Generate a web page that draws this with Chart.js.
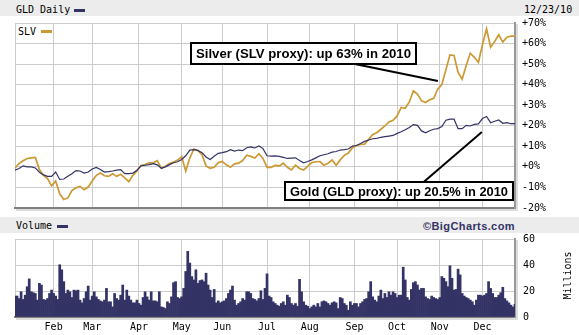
<!DOCTYPE html>
<html><head><meta charset="utf-8">
<script src="https://cdn.jsdelivr.net/npm/chart.js@4.4.0/dist/chart.umd.min.js"></script>
<style>
html,body{margin:0;padding:0;background:#fff;}
#wrap{position:relative;width:579px;height:335px;overflow:hidden;background:#fff;font-family:"DejaVu Sans Mono",monospace;font-size:10px;}
.band{position:absolute;left:0;width:579px;background:#ececec;}
.t{position:absolute;white-space:nowrap;line-height:10px;color:#000;}
.sw{position:absolute;height:3px;width:11px;}
canvas{position:absolute;left:0;}
</style></head><body>
<div id="wrap">
 <div class="band" style="top:0;height:16px"></div>
 <div class="band" style="top:217px;height:16px"></div>
 <div class="t" style="left:16px;top:4.5px">GLD Daily</div>
 <div class="sw" style="left:74px;top:9px;background:#333366"></div>
 <div class="t" style="left:524px;top:4.5px">12/23/10</div>
 <div class="t" style="left:18px;top:26.5px">SLV</div>
 <div class="sw" style="left:41px;top:30px;background:#cc9933"></div>
 <div class="t" style="left:16px;top:221px">Volume</div>
 <div class="sw" style="left:57px;top:225px;background:#333366"></div>
 <div class="t" style="left:423px;top:219.5px;font:bold 11px 'Liberation Sans',Arial,sans-serif;letter-spacing:0.4px;color:#333366">©BigCharts.com</div>
 <canvas id="top" width="579" height="215" style="top:0"></canvas>
 <canvas id="vol" width="579" height="102" style="top:233px"></canvas>
</div>
<script>
// trading-session index (Jan 4 2010 = 0 ... Dec 23 2010 = 246); price lines sampled every 2nd session
const sessions = [0,2,4,6,8,10,12,14,16,18,20,22,24,26,28,30,32,34,36,38,40,42,44,46,48,50,52,54,56,58,60,62,64,66,68,70,72,74,76,78,80,82,84,86,88,90,92,94,96,98,100,102,104,106,108,110,112,114,116,118,120,122,124,126,128,130,132,134,136,138,140,142,144,146,148,150,152,154,156,158,160,162,164,166,168,170,172,174,176,178,180,182,184,186,188,190,192,194,196,198,200,202,204,206,208,210,212,214,216,218,220,222,224,226,228,230,232,234,236,238,240,242,244,246];
const monthNames = ['Feb','Mar','Apr','May','Jun','Jul','Aug','Sep','Oct','Nov','Dec'];
const monthStarts = [19,38,61,82,102,124,145,167,188,209,230];
const lastSession = 246;

// SLV, % change
const slv = [-0.5,1.6,3.0,4.1,4.4,4.6,-1.3,-4.1,-5.7,-9.2,-6.9,-13.1,-15.9,-15.1,-11.5,-10.2,-9.5,-11.1,-9.8,-6.9,-4.1,-3.0,-4.3,-4.6,-3.3,-4.6,-3.6,-5.4,-7.2,-4.1,-2.0,0.7,1.1,2.0,2.0,3.0,-0.7,0.3,1.6,2.3,3.3,4.9,-2.0,4.3,8.7,7.9,5.9,0.5,-0.7,-0.2,2.1,2.6,1.0,-0.2,1.5,1.8,3.1,5.7,5.1,4.3,6.4,4.1,-0.2,-0.2,0.7,0.5,1.8,-0.2,-1.5,0.8,-0.8,-1.5,0.2,2.1,2.5,2.6,0.8,1.8,3.4,0.8,3.4,5.6,6.7,9.3,10.4,10.9,11.1,13.4,15.8,16.6,18.3,19.9,21.9,22.7,24.8,28.9,28.5,31.6,37.0,35.4,32.1,31.3,32.6,33.4,37.8,40.0,47.3,54.5,54.2,46.0,42.7,49.3,55.3,53.3,50.9,59.4,67.2,58.2,61.0,64.3,60.7,63.1,63.6,63.6];
// GLD, % change
const gld = [-1.6,-0.8,0.5,0,0,-0.5,-2.6,-3.9,-4.6,-4.6,-2.5,-6.1,-5.9,-4.6,-3.3,-1.8,-2.0,-3.0,-2.5,-1.0,-0.3,-1.3,-2.5,-2.3,-2.0,-1.6,-1.3,-3.3,-3.3,-3.0,-1.6,0.5,0.8,1.1,1.6,1.0,-0.7,0,1.1,2.0,2.5,3.6,5.4,8.2,8.4,8.0,6.9,4.8,3.6,5.2,6.6,6.9,7.4,8.4,7.7,8.2,7.9,9.3,9.7,9.2,10.2,8.9,5.4,5.2,5.4,5.1,4.6,4.1,4.3,4.4,3.1,2.0,2.6,3.4,4.4,5.4,5.9,6.4,7.2,7.5,8.2,8.4,8.7,10.1,10.4,11.4,12.4,13.1,13.7,13.9,14.4,14.7,15.0,15.3,16.3,17.1,18.1,19.2,20.6,20.2,17.5,16.6,17.6,18.3,18.6,19.6,22.7,23.2,23.2,18.6,18.6,20.2,19.9,20.7,20.9,23.5,24.5,21.5,22.2,22.8,21.2,21.5,21.0,21.0];
// GLD daily volume, millions of shares (one value per session 0..246)
const volume = [16.1,16.1,14.2,19.4,13.5,16.8,23.3,29.3,19.4,18.7,
18.1,13.0,25.9,24.6,13.5,13.0,14.2,18.1,20.7,18.1,
16.1,13.5,40.2,36.3,27.2,18.1,20.7,19.4,15.0,20.7,
20.2,20.7,13.0,10.9,14.2,19.4,23.8,13.0,16.1,19.4,
15.5,13.5,12.4,11.7,13.0,22.0,11.7,11.7,7.8,18.1,
14.2,13.0,16.8,24.6,13.0,20.7,16.1,13.0,10.9,10.9,
13.0,10.4,9.1,15.0,19.4,15.5,13.0,19.4,12.4,12.4,
11.7,19.4,7.8,7.3,6.5,11.7,10.4,15.5,26.4,27.2,
15.0,14.2,15.5,22.0,35.0,50.5,41.5,31.1,28.5,36.3,
25.9,28.0,28.5,27.2,33.7,24.6,20.7,15.0,21.2,10.9,
12.4,10.9,11.7,12.4,14.2,18.1,20.7,23.8,13.0,9.1,
10.4,11.7,14.2,13.0,19.4,19.4,18.1,14.2,13.5,12.4,
14.2,20.2,13.5,22.0,33.2,16.1,15.0,11.7,10.4,9.1,
8.3,10.4,11.7,9.1,16.8,15.0,10.4,9.1,10.4,8.3,
29.0,19.4,11.7,9.1,8.3,6.5,7.8,9.1,7.8,10.4,
7.8,11.7,12.4,11.7,10.4,9.1,10.9,11.7,10.9,6.5,
15.0,14.2,10.4,9.1,5.2,11.7,9.1,10.4,10.4,7.8,
10.4,11.7,13.5,14.2,19.4,27.2,15.5,13.0,11.7,16.1,
20.7,14.2,18.1,15.0,19.4,16.8,19.4,18.1,15.0,16.8,
16.8,38.3,28.5,15.0,13.0,21.2,26.4,27.2,24.6,20.7,
22.0,22.0,15.5,14.2,13.5,16.1,15.0,14.2,13.5,15.0,
31.1,29.8,27.2,23.3,39.4,29.8,20.7,21.2,36.8,32.4,
18.1,16.1,15.0,14.2,13.0,11.7,9.1,13.0,16.8,16.8,
16.1,16.8,18.1,27.2,22.0,18.1,15.0,15.0,16.8,18.7,
22.8,14.2,12.4,10.9,9.1,7.8,9.8];
const volSessions = volume.map((_, i) => i); // session index of each volume bar
const pctTicks = [-20,-10,0,10,20,30,40,50,60,70];
const volTicks = [0,20,40,60];

// annotation boxes and pointers, in (session, percent) coordinates
const notes = [
  {text:'Silver (SLV proxy): up 63% in 2010', x0:86.6, x1:197.2, y0:60.3, y1:50.0, fx:141.9, fy:55.2, tx:208.1, ty:41.8},
  {text:'Gold (GLD proxy): up 20.5% in 2010', x0:132.8, x1:245.0, y0:-7.3, y1:-16.1, fx:198.2, fy:-9.8, tx:229.7, ty:17.0}
];

const NAVY = '#333366', GOLD = '#cc9933', GRID = '#cccccc';
Chart.defaults.font.family = '"DejaVu Sans Mono", monospace';
Chart.defaults.font.size = 10;
Chart.defaults.color = '#000';

const pts = (xs, arr) => arr.map((v,i)=>({x:xs[i], y:v}));
const monthTickBuilder = s => { s.ticks = [0].concat(monthStarts).concat([lastSession]).map(v=>({value:v})); };
const fixY = s => { s.width = 64; s.paddingTop = 0; s.paddingBottom = 0; };

const notePlugin = {
  id:'notes',
  afterDatasetsDraw(chart){
    const {ctx, scales:{x,y}} = chart;
    ctx.save();
    notes.forEach(n=>{
      const l=x.getPixelForValue(n.x0), r=x.getPixelForValue(n.x1);
      const t=y.getPixelForValue(n.y0), b=y.getPixelForValue(n.y1);
      ctx.strokeStyle='#000'; ctx.lineWidth=2;
      ctx.beginPath();
      ctx.moveTo(x.getPixelForValue(n.fx), y.getPixelForValue(n.fy));
      ctx.lineTo(x.getPixelForValue(n.tx), y.getPixelForValue(n.ty));
      ctx.stroke();
      const L=Math.round(l), T=Math.round(t), W=Math.round(r-l), H=Math.round(b-t);
      ctx.fillStyle='#fff'; ctx.fillRect(L,T,W,H);
      ctx.strokeRect(L,T,W,H);
      ctx.font='bold 13px "Liberation Sans", Arial, sans-serif';
      const w = ctx.measureText(n.text).width;
      const target = W - 10;
      ctx.save();
      ctx.translate(L+W/2, T+H/2+1);
      ctx.scale(target/w, 1);
      ctx.fillStyle='#000'; ctx.textAlign='center'; ctx.textBaseline='middle';
      ctx.fillText(n.text, 0, 0);
      ctx.restore();
    });
    ctx.restore();
  }
};

// light "shadow" outside the right and bottom frame lines
const shadowPlugin = {
  id:'shadow',
  afterDraw(chart){
    const {ctx, chartArea:a} = chart;
    ctx.save();
    ctx.fillStyle='#dddddd';
    ctx.fillRect(a.right+1, a.top+1, 2, a.bottom-a.top+2);
    ctx.fillRect(a.left+1, a.bottom+1, a.right-a.left+2, 2);
    ctx.restore();
  }
};

new Chart(document.getElementById('top'), {
  type:'line',
  data:{datasets:[
    {label:'GLD', data:pts(sessions, gld), borderColor:NAVY, borderWidth:1.2, pointRadius:0, tension:0, order:0},
    {label:'SLV', data:pts(sessions, slv), borderColor:GOLD, borderWidth:1.7, pointRadius:0, tension:0, order:1}
  ]},
  options:{
    responsive:false, animation:false, devicePixelRatio:1,
    layout:{padding:{left:15, top:23, right:0, bottom:7}},
    plugins:{legend:{display:false}, tooltip:{enabled:false}},
    scales:{
      x:{type:'linear', min:0, max:lastSession, afterBuildTicks:monthTickBuilder,
         ticks:{display:false}, grid:{color:GRID, drawTicks:false},
         border:{color:'#808080', width:2},
         afterFit:s=>{s.height=0;}},
      y:{position:'right', min:-20, max:70, afterBuildTicks:s=>{s.ticks=pctTicks.map(v=>({value:v}));},
         ticks:{padding:7, callback:v=> (v>=0?'+':'')+v+'%'},
         grid:{color:GRID, drawTicks:false},
         border:{color:'#999999', width:2},
         afterFit:fixY}
    }
  },
  plugins:[shadowPlugin, notePlugin]
});

const millionsPlugin = {
  id:'millions',
  afterDraw(chart){
    const ctx = chart.ctx;
    ctx.save();
    ctx.translate(568, 42.5);
    ctx.rotate(-Math.PI/2);
    ctx.font='10px "DejaVu Sans Mono", monospace';
    ctx.fillStyle='#000'; ctx.textAlign='center'; ctx.textBaseline='middle';
    ctx.fillText('Millions', 0, 0);
    ctx.restore();
  }
};

new Chart(document.getElementById('vol'), {
  type:'bar',
  data:{datasets:[
    {label:'Volume', data:pts(volSessions, volume), backgroundColor:NAVY, borderWidth:0, barPercentage:1, categoryPercentage:1}
  ]},
  options:{
    responsive:false, animation:false, devicePixelRatio:1,
    layout:{padding:{left:15, top:6, right:0, bottom:0}},
    plugins:{legend:{display:false}, tooltip:{enabled:false}},
    scales:{
      x:{type:'linear', min:0, max:lastSession, afterBuildTicks:monthTickBuilder, offset:false,
         ticks:{autoSkip:false, maxRotation:0, padding:4,
           callback:v=>{const k=monthStarts.indexOf(v); return k>=0?monthNames[k]:'';}},
         grid:{color:GRID, drawTicks:false, offset:false},
         border:{color:'#808080', width:2},
         afterFit:s=>{s.height=18; s.paddingLeft=0; s.paddingRight=0;}},
      y:{position:'right', min:0, max:60, afterBuildTicks:s=>{s.ticks=volTicks.map(v=>({value:v}));},
         ticks:{padding:8},
         grid:{color:GRID, drawTicks:false},
         border:{color:'#999999', width:2},
         afterFit:fixY}
    }
  },
  plugins:[shadowPlugin, millionsPlugin]
});
</script>
</body></html>
